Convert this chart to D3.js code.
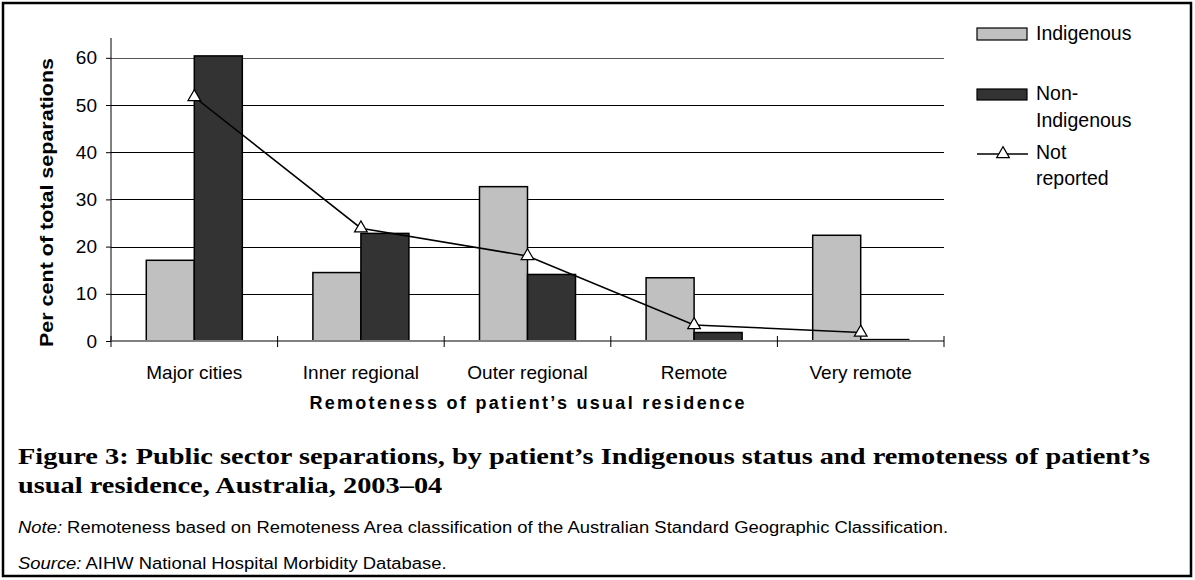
<!DOCTYPE html>
<html lang="en">
<head>
<meta charset="utf-8">
<script src="https://d3js.org/d3.v7.min.js"></script>
<style>
  body { margin: 0; background: #fff; }
  svg text { font-family: "Liberation Sans", Arial, sans-serif; fill: #000; }
  .caption { font-family: "Liberation Serif", "DejaVu Serif", serif; font-weight: bold; }
</style>
</head>
<body>
<svg id="chart" width="1195" height="580"></svg>
<script>
// dados
const categorias = ["Major cities", "Inner regional", "Outer regional", "Remote", "Very remote"];
const indigena = [17.1, 14.5, 32.7, 13.4, 22.4];
const naoIndigena = [60.4, 22.8, 14.1, 1.8, 0.3];
const naoInformado = [51.7, 23.9, 18.0, 3.4, 1.8];
const ticksY = [0, 10, 20, 30, 40, 50, 60];

const svg = d3.select("#chart");

// moldura
svg.append("rect")
  .attr("x", 3).attr("y", 3).attr("width", 1188).attr("height", 573)
  .attr("fill", "none").attr("stroke", "#000").attr("stroke-width", 2.5);

const margem = {left: 111, right: 944, top: 38, bottom: 341};

const x = d3.scaleBand()
  .domain(categorias)
  .range([margem.left, margem.right])
  .paddingInner(0).paddingOuter(0);

const xSub = d3.scaleBand()
  .domain(["ind", "non"])
  .range([0, x.bandwidth()])
  .paddingOuter(0.735).paddingInner(0);

const y = d3.scaleLinear().domain([0, 60]).range([margem.bottom, margem.bottom - 60 * 4.72]);

// grade
svg.append("g").selectAll("line")
  .data(ticksY.filter(d => d > 0))
  .join("line")
  .attr("x1", margem.left).attr("x2", margem.right)
  .attr("y1", d => Math.round(y(d)) + 0.5).attr("y2", d => Math.round(y(d)) + 0.5)
  .attr("stroke", d => d === 60 ? "#555" : "#000").attr("stroke-width", 1);

// eixo y
const eixoY = svg.append("g")
  .attr("transform", `translate(${margem.left},0)`)
  .call(d3.axisLeft(y).tickValues(ticksY).tickSize(5).tickPadding(9));
eixoY.select(".domain").attr("d", `M0,${margem.top}V${margem.bottom}`).attr("stroke", "#000");
eixoY.selectAll(".tick line").attr("stroke", "#000");
eixoY.selectAll("text").attr("font-size", 19).attr("font-family", "Liberation Sans, Arial, sans-serif").attr("fill", "#000");

// barras
const grupos = svg.append("g").selectAll("g")
  .data(categorias)
  .join("g")
  .attr("transform", d => `translate(${x(d)},0)`);

grupos.append("rect")
  .attr("x", xSub("ind"))
  .attr("width", xSub.bandwidth())
  .attr("y", (d, i) => y(indigena[i]))
  .attr("height", (d, i) => y(0) - y(indigena[i]))
  .attr("fill", "#c0c0c0").attr("stroke", "#000").attr("stroke-width", 1.5);

grupos.append("rect")
  .attr("x", xSub("non"))
  .attr("width", xSub.bandwidth())
  .attr("y", (d, i) => y(naoIndigena[i]))
  .attr("height", (d, i) => y(0) - y(naoIndigena[i]))
  .attr("fill", "#333333").attr("stroke", "#000").attr("stroke-width", 1.5);

// eixo x
const eixoX = svg.append("g")
  .attr("transform", `translate(0,${margem.bottom})`);
eixoX.append("line")
  .attr("x1", margem.left).attr("x2", margem.right)
  .attr("stroke", "#808080").attr("stroke-width", 2);
const limites = categorias.map(d => x(d)).concat([margem.right]);
eixoX.selectAll(".tk").data(limites).join("line")
  .attr("class", "tk")
  .attr("x1", d => d).attr("x2", d => d)
  .attr("y1", -5).attr("y2", 6)
  .attr("stroke", "#000");
eixoX.selectAll(".lbl").data(categorias).join("text")
  .attr("class", "lbl")
  .attr("x", d => x(d) + x.bandwidth() / 2)
  .attr("y", 38)
  .attr("text-anchor", "middle")
  .attr("font-size", 19)
  .text(d => d);

// linha "Not reported"
const cx = d => x(d) + x.bandwidth() / 2;
svg.append("path")
  .datum(naoInformado)
  .attr("fill", "none").attr("stroke", "#000").attr("stroke-width", 1.5)
  .attr("d", d3.line().x((d, i) => cx(categorias[i])).y(d => y(d)));

const triangulo = d3.symbol().type(d3.symbolTriangle).size(70);
svg.append("g").selectAll("path")
  .data(naoInformado)
  .join("path")
  .attr("transform", (d, i) => `translate(${cx(categorias[i])},${y(d)})`)
  .attr("d", triangulo)
  .attr("fill", "#fff").attr("stroke", "#000").attr("stroke-width", 1.2);

// títulos dos eixos
svg.append("text")
  .attr("transform", "translate(53,202.5) rotate(-90)")
  .attr("text-anchor", "middle")
  .attr("font-size", 18.5).attr("font-weight", "bold")
  .attr("textLength", 289).attr("lengthAdjust", "spacingAndGlyphs")
  .text("Per cent of total separations");

svg.append("text")
  .attr("x", 527).attr("y", 409)
  .attr("text-anchor", "middle")
  .attr("font-size", 18).attr("font-weight", "bold")
  .attr("textLength", 435).attr("lengthAdjust", "spacing")
  .text("Remoteness of patient\u2019s usual residence");

// legenda
const leg = svg.append("g");
leg.append("rect").attr("x", 977).attr("y", 28).attr("width", 50).attr("height", 12)
  .attr("fill", "#c0c0c0").attr("stroke", "#000").attr("stroke-width", 1.2);
leg.append("text").attr("x", 1036).attr("y", 40).attr("font-size", 19.5).text("Indigenous");

leg.append("rect").attr("x", 977).attr("y", 89).attr("width", 50).attr("height", 11)
  .attr("fill", "#333333").attr("stroke", "#000").attr("stroke-width", 1.2);
leg.append("text").attr("x", 1036).attr("y", 100).attr("font-size", 19.5).text("Non-");
leg.append("text").attr("x", 1036).attr("y", 127).attr("font-size", 19.5).text("Indigenous");

leg.append("line").attr("x1", 977).attr("x2", 1028).attr("y1", 154).attr("y2", 154)
  .attr("stroke", "#000").attr("stroke-width", 1.5);
leg.append("path").attr("transform", "translate(1003,154)").attr("d", triangulo)
  .attr("fill", "#fff").attr("stroke", "#000").attr("stroke-width", 1.2);
leg.append("text").attr("x", 1036).attr("y", 159).attr("font-size", 19.5).text("Not");
leg.append("text").attr("x", 1036).attr("y", 185).attr("font-size", 19.5).text("reported");

// legenda da figura
const cap1 = svg.append("text").attr("class", "caption")
  .attr("x", 18).attr("y", 464).attr("font-size", 23)
  .text("Figure 3: Public sector separations, by patient\u2019s Indigenous status and remoteness of patient\u2019s");
const cap2 = svg.append("text").attr("class", "caption")
  .attr("x", 18).attr("y", 493).attr("font-size", 23)
  .text("usual residence, Australia, 2003\u201304");
const fCap = 1132 / cap1.node().getComputedTextLength();
cap1.attr("textLength", 1132).attr("lengthAdjust", "spacingAndGlyphs");
cap2.attr("textLength", cap2.node().getComputedTextLength() * fCap).attr("lengthAdjust", "spacingAndGlyphs");

const nota = svg.append("text").attr("x", 18).attr("y", 533).attr("font-size", 16);
nota.append("tspan").attr("font-style", "italic").text("Note:");
nota.append("tspan").text(" Remoteness based on Remoteness Area classification of the Australian Standard Geographic Classification.");

const fonte = svg.append("text").attr("x", 18).attr("y", 569).attr("font-size", 16);
fonte.append("tspan").attr("font-style", "italic").text("Source:");
fonte.append("tspan").text(" AIHW National Hospital Morbidity Database.");

const fNota = 930 / nota.node().getComputedTextLength();
nota.attr("textLength", 930).attr("lengthAdjust", "spacingAndGlyphs");
fonte.attr("textLength", fonte.node().getComputedTextLength() * fNota).attr("lengthAdjust", "spacingAndGlyphs");
</script>
</body>
</html>
